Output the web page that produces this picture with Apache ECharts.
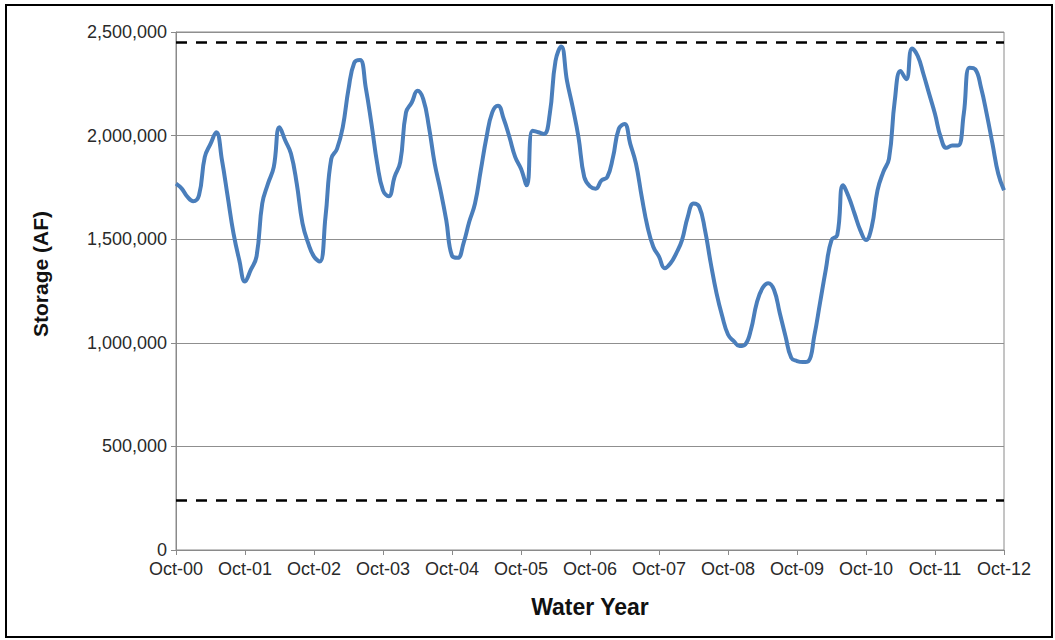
<!DOCTYPE html>
<html>
<head>
<meta charset="utf-8">
<script src="https://cdn.jsdelivr.net/npm/echarts@6/dist/echarts.min.js"></script>
<style>
html,body{margin:0;padding:0;background:#fff;}
#chart{width:1055px;height:640px;}
</style>
</head>
<body>
<div id="chart"></div>
<script>
// Categories: monthly, Oct-00 .. Oct-12
const monthNames = ['Oct','Nov','Dec','Jan','Feb','Mar','Apr','May','Jun','Jul','Aug','Sep'];
const waterYears = ['00','01','02','03','04','05','06','07','08','09','10','11','12'];
const categories = [];
for (let y = 0; y < waterYears.length; y++) {
  for (let m = 0; m < 12; m++) {
    if (y === waterYears.length - 1 && m > 0) break;
    const calYear = m < 3 ? waterYears[y] : (waterYears[y + 1] || waterYears[y]);
    categories.push(monthNames[m] + '-' + calYear);
  }
}

// Storage (AF), monthly
const storage = [
  1768000,1744000,1704000,1683000,1712000,1896000,1960000,2016000,1880000,1704000,1528000,1400000,
  1296000,1352000,1416000,1672000,1768000,1848000,2040000,1976000,1912000,1768000,1576000,1480000,
  1416000,1392000,1608000,1888000,1936000,2040000,2224000,2352000,2365000,2232000,2056000,1864000,
  1736000,1707000,1800000,1872000,2112000,2160000,2216000,2176000,2040000,1864000,1736000,1592000,
  1420000,1410000,1480000,1584000,1672000,1832000,1992000,2112000,2144000,2080000,1992000,1896000,
  1840000,1760000,2024000,2016000,2008000,2104000,2360000,2430000,2264000,2136000,1992000,1800000,
  1755000,1744000,1784000,1800000,1896000,2032000,2056000,1960000,1864000,1704000,1560000,1464000,
  1416000,1360000,1384000,1432000,1496000,1608000,1672000,1656000,1544000,1384000,1240000,1128000,
  1040000,1008000,984000,992000,1064000,1192000,1264000,1288000,1256000,1144000,1032000,928000,
  912000,907000,912000,1032000,1192000,1352000,1496000,1520000,1760000,1704000,1624000,1544000,
  1496000,1560000,1736000,1824000,1888000,2168000,2312000,2272000,2420000,2384000,2296000,2200000,
  2104000,1992000,1941000,1952000,1952000,2104000,2328000,2320000,2232000,2104000,1960000,1816000,
  1736000
];

// Reference levels (dashed)
const upperLevel = 2450000;
const lowerLevel = 240000;

const yTicks = [0, 500000, 1000000, 1500000, 2000000, 2500000];

const chart = echarts.init(document.getElementById('chart'), null, {renderer: 'svg'});
const font = 'Liberation Sans, Arial, sans-serif';
chart.setOption({
  animation: false,
  backgroundColor: '#fff',
  grid: {left: 176, right: 51, top: 32, bottom: 90, show: true, borderColor: '#8a8a8a', borderWidth: 1},
  xAxis: {
    type: 'category',
    data: categories,
    boundaryGap: false,
    name: 'Water Year',
    nameLocation: 'middle',
    nameGap: 45,
    nameTextStyle: {fontFamily: font, fontWeight: 'bold', fontSize: 23, color: '#111'},
    axisLine: {lineStyle: {color: '#8a8a8a', width: 1}},
    axisTick: {show: true, interval: 11, length: 5, inside: false, lineStyle: {color: '#8a8a8a'}},
    axisLabel: {interval: 11, margin: 10, fontFamily: font, fontSize: 18, color: '#2a2a2a'},
    splitLine: {show: false}
  },
  yAxis: {
    type: 'value',
    min: yTicks[0],
    max: yTicks[yTicks.length - 1],
    interval: 500000,
    axisLine: {show: true, lineStyle: {color: '#8a8a8a', width: 1}},
    axisTick: {show: true, length: 5, lineStyle: {color: '#8a8a8a'}},
    axisLabel: {
      margin: 9, fontFamily: font, fontSize: 18, color: '#2a2a2a',
      formatter: v => v.toLocaleString('en-US')
    },
    splitLine: {show: true, lineStyle: {color: '#8f8f8f', width: 1}}
  },
  graphic: [
    {type: 'rect', shape: {x: 6, y: 5, width: 1046, height: 632}, style: {fill: 'none', stroke: '#000', lineWidth: 2}, silent: true, z: 100},
    {type: 'text', x: 40, y: 274, rotation: Math.PI / 2,
     style: {text: 'Storage (AF)', fontFamily: font, fontWeight: 'bold', fontSize: 21, fill: '#111', textAlign: 'center', textVerticalAlign: 'middle'}}
  ],
  series: [{
    type: 'line',
    data: storage,
    smooth: 0.45,
    showSymbol: false,
    lineStyle: {color: '#4a7ebb', width: 4},
    markLine: {
      silent: true,
      symbol: ['none', 'none'],
      label: {show: false},
      lineStyle: {color: '#000', type: [11, 9], width: 2.5},
      data: [{yAxis: upperLevel}, {yAxis: lowerLevel}]
    }
  }]
});
</script>
</body>
</html>
